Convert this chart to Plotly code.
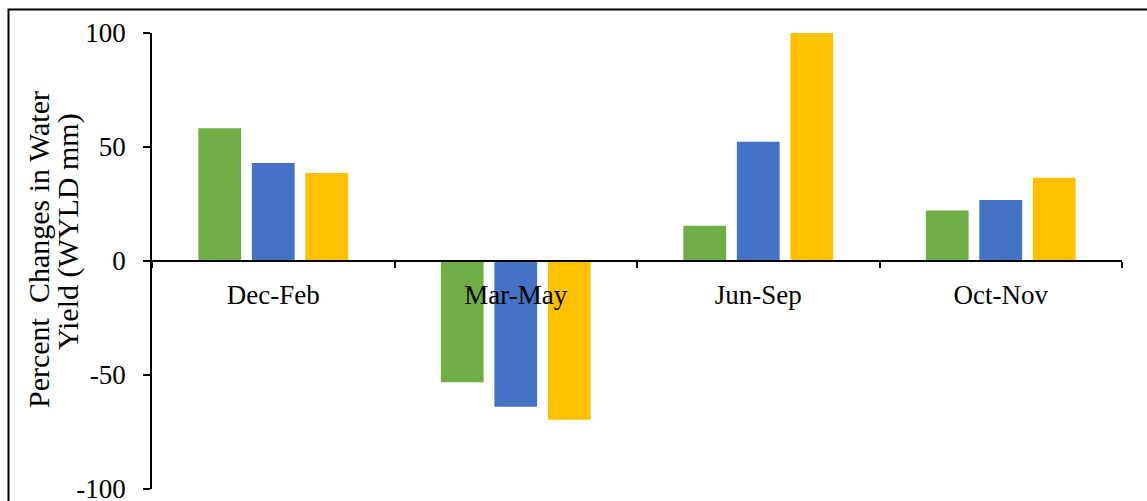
import plotly.graph_objects as go

# Seasonal percent change in water yield, three series per season
seasons = ["Dec-Feb", "Mar-May", "Jun-Sep", "Oct-Nov"]
series_1 = [58.2, -53.2, 15.5, 22.1]
series_2 = [43.0, -63.9, 52.3, 26.7]
series_3 = [38.6, -69.6, 100.4, 36.5]

y_tickvals = [100, 50, 0, -50, -100]
y_ticktext = ["100", "50", "0", "-50", "-100"]

W, H = 1147, 501
ML, MR, MT, MB = 152, 25, 33, 12
PW, PH = W - ML - MR, H - MT - MB


def px_x(px):
    return (px - ML) / PW


def px_y(py):
    return (H - MB - py) / PH


FONT = "Liberation Serif"

fig = go.Figure()
for name, vals, color in [
    ("Series 1", series_1, "#70AD47"),
    ("Series 2", series_2, "#4472C4"),
    ("Series 3", series_3, "#FFC000"),
]:
    fig.add_trace(go.Bar(
        x=seasons, y=vals, name=name,
        marker=dict(color=color, line=dict(width=0)),
        cliponaxis=False,
    ))

fig.update_layout(
    width=W, height=H,
    margin=dict(l=ML, r=MR, t=MT, b=MB, pad=0, autoexpand=False),
    paper_bgcolor="white", plot_bgcolor="white",
    barmode="group", bargap=0.338, bargroupgap=0.2,
    showlegend=False,
    font=dict(family=FONT, color="black", size=27),
    xaxis=dict(
        anchor="free", position=0.5, automargin=False,
        showline=True, linecolor="black", linewidth=2,
        ticks="outside", tickson="boundaries", ticklen=6,
        tickwidth=1.5, tickcolor="black",
        showgrid=False, zeroline=False,
        tickfont=dict(family=FONT, size=27, color="black"),
        ticklabelstandoff=10,
    ),
    yaxis=dict(
        range=[-100, 100], automargin=False,
        tickvals=y_tickvals, ticktext=y_ticktext,
        showline=True, linecolor="black", linewidth=1.5,
        ticks="outside", ticklen=7, tickwidth=1.5, tickcolor="black",
        showgrid=False, zeroline=False,
        tickfont=dict(family=FONT, size=27, color="black"),
        ticklabelstandoff=12,
        ticklabeloverflow="allow",
    ),
)

# Two-line rotated axis title
fig.add_annotation(
    text="Percent\u00a0 Changes in Water", textangle=-90,
    xref="paper", yref="paper", x=px_x(38), y=px_y(250),
    xanchor="center", yanchor="middle", showarrow=False,
    font=dict(family=FONT, size=30, color="black"),
)
fig.add_annotation(
    text="Yield (WYLD mm)", textangle=-90,
    xref="paper", yref="paper", x=px_x(68), y=px_y(232),
    xanchor="center", yanchor="middle", showarrow=False,
    font=dict(family=FONT, size=30, color="black"),
)

# Chart frame
fig.add_shape(
    type="rect", xref="paper", yref="paper",
    x0=px_x(8.5), y0=px_y(H + 20), x1=px_x(W + 20), y1=px_y(9.5),
    line=dict(color="black", width=2), fillcolor="rgba(0,0,0,0)",
    layer="above",
)

fig.write_html("out.html")
